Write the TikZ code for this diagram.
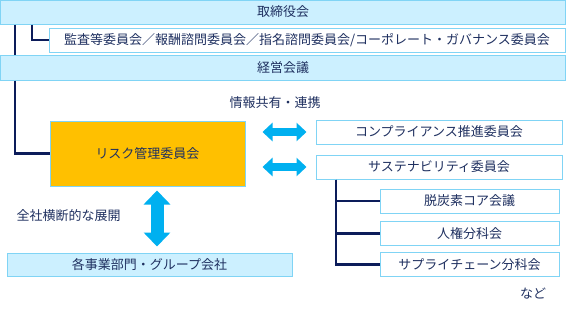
\documentclass[tikz,border=0pt]{standalone}
\usepackage{fontspec}
\setmainfont{Noto Sans CJK JP}
\usepackage{tikz}
\usetikzlibrary{
  arrows.meta,              % Triangle 箭头
  positioning               % 节点相对定位
}
\definecolor{barblue}{RGB}{204,240,255}
\definecolor{edgeblue}{RGB}{128,212,245}
\definecolor{riskorange}{RGB}{255,192,0}
\definecolor{inknavy}{RGB}{31,48,96}
\definecolor{linenavy}{RGB}{12,28,90}
\definecolor{arrowcyan}{RGB}{0,176,240}
\tikzset{
  org box/.style={
    draw=edgeblue,
    line width=1pt,
    inner sep=0pt,
    text=inknavy,
    font=\fontsize{13}{15}\selectfont
  },
  bar box/.style={
    org box,
    fill=barblue,
    minimum width=565pt,
    minimum height=24pt
  },
  white box/.style={
    org box,
    fill=white,
    minimum height=24pt
  },
  tree line/.style={
    draw=linenavy,
    line width=2.5pt
  },
  side arrow/.style={
    {Triangle[length=10pt,width=18pt]}-{Triangle[length=10pt,width=18pt]},
    line width=8pt,
    draw=arrowcyan
  },
  down arrow/.style={
    {Triangle[length=14pt,width=26pt]}-{Triangle[length=14pt,width=26pt]},
    line width=13pt,
    draw=arrowcyan
  },
  note text/.style={
    text=inknavy,
    font=\fontsize{13}{15}\selectfont
  }
}

\begin{document}
\begin{tikzpicture}[x=1pt, y=-1pt]

  \path[use as bounding box, fill=white] (0,0) rectangle (566,309);

  % 1. 上部的会议体
  \node[bar box] (board) at (283,12) {取締役会};
  \node[white box, minimum width=516pt] (audit) at (307,40)
    {監査等委員会／報酬諮問委員会／指名諮問委員会/コーポレート・ガバナンス委員会};
  \node[bar box, minimum height=25pt] (mgmt) at (283,67.5) {経営会議};

  % 2. 风险管理委员会与下部
  \node[org box, fill=riskorange, minimum width=195pt, minimum height=65pt] (risk) at (147.5,153.5) {リスク管理委員会};
  \node[org box, fill=barblue, minimum width=285pt, minimum height=23pt] (group) at (149.5,264.5) {各事業部門・グループ会社};
  \node[note text, anchor=west] (crosscut) at (13,216) {全社横断的な展開};

  % 3. 右侧委员会
  \node[white box, minimum width=246pt] (comp) at (439,132) {コンプライアンス推進委員会};
  \node[white box, minimum width=246pt] (sust) at (439,167) {サステナビリティ委員会};
  \node[white box, minimum width=179pt] (decarb) at (469.5,201) {脱炭素コア会議};
  \node[white box, minimum width=179pt] (rights) at (469.5,233.5) {人権分科会};
  \node[white box, minimum width=179pt] (supply) at (469.5,264.5) {サプライチェーン分科会};
  \node[note text] (share) at (275,103) {情報共有・連携};
  \node[note text] (etc) at (533,294) {など};

  % 4. 组织连线
  \coordinate (trunk) at (15,0);
  \coordinate (branch) at (32,0);
  \coordinate (stem) at (336,0);
  \coordinate (vmid) at (157,0);
  \draw[tree line] (board.south -| trunk) -- (mgmt.north -| trunk);
  \draw[tree line] (board.south -| branch) |- (audit.west);
  \draw[tree line] (mgmt.south -| trunk) |- (risk.west);
  \draw[tree line] (sust.south -| stem) |- (decarb.west);
  \draw[tree line] (sust.south -| stem) |- (rights.west);
  \draw[tree line] (sust.south -| stem) |- (supply.west);

  % 5. 双向粗箭头
  \draw[side arrow, shorten <=17pt, shorten >=9pt] (risk.east |- comp) -- (comp.west);
  \draw[side arrow, shorten <=17pt, shorten >=9pt] (risk.east |- sust) -- (sust.west);
  \draw[down arrow, shorten <=4pt, shorten >=6pt] (risk.south -| vmid) -- (group.north -| vmid);

\end{tikzpicture}
\end{document}
